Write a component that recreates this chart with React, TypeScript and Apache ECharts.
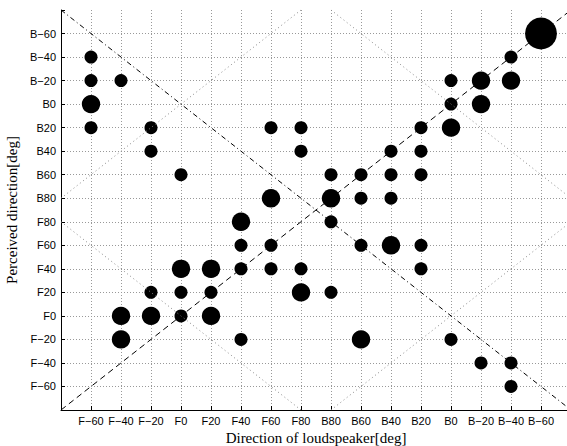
import React, { useEffect, useRef } from "react";
import * as echarts from "echarts";

const labels = ["F−60","F−40","F−20","F0","F20","F40","F60","F80","B80","B60","B40","B20","B0","B−20","B−40","B−60"];

// [speaker index, perceived index, count]
const responses: number[][] = [
  [0,14,1],[0,13,1],[1,13,1],[0,12,2],[0,11,1],[2,11,1],[6,11,1],[7,11,1],
  [2,10,1],[7,10,1],[3,9,1],[6,8,2],[5,7,2],
  [15,15,6],[14,14,1],[12,13,1],[13,13,2],[14,13,2],[12,12,1],[13,12,2],
  [11,11,1],[12,11,2],[10,10,1],[11,10,1],[8,9,1],[9,9,1],[10,9,1],[11,9,1],
  [8,8,2],[9,8,1],[10,8,1],[8,7,1],
  [5,6,1],[6,6,1],[3,5,2],[4,5,2],[5,5,1],[6,5,1],[7,5,1],
  [2,4,1],[3,4,1],[4,4,1],[7,4,2],[1,3,2],[2,3,2],[3,3,1],[4,3,2],
  [1,2,2],[5,2,1],
  [9,6,1],[10,6,2],[11,6,1],[11,5,1],[8,4,1],[9,2,2],[12,2,1],
  [13,1,1],[14,1,1],[14,0,1]
];

const mainDiagonal = [[-1,-1],[16,16]];
const antiDiagonal = [[-1,16],[16,-1]];
const diamond1 = [[-1,8],[7,16]];
const diamond2 = [[8,16],[16,8]];
const diamond3 = [[-1,7],[7,-1]];
const diamond4 = [[8,-1],[16,7]];

export default function App() {
  const ref = useRef<HTMLDivElement>(null);
  useEffect(() => {
    if (!ref.current) return;
    const chart = echarts.init(ref.current, null, { renderer: "svg" });
    const fmt = (v: number) => (v >= 0 && v <= 15 && Number.isInteger(v) ? labels[v] : "");
    const axisCommon = {
      type: "value" as const,
      min: -1,
      max: 16,
      interval: 1,
      nameLocation: "middle" as const,
      nameTextStyle: { fontFamily: "Liberation Serif", fontSize: 15, color: "#000" },
      axisLine: { show: true, onZero: false, lineStyle: { color: "#000", width: 1 } },
      axisTick: { show: true, inside: true, length: 4, lineStyle: { color: "#000" } },
      axisLabel: { formatter: fmt, fontFamily: "Liberation Sans", fontSize: 11, color: "#000", margin: 5 },
      splitLine: { show: true, showMinLine: false, showMaxLine: false, lineStyle: { color: "#999", type: [1, 2], width: 1 } },
    };
    const dotted = (data: number[][]) => ({
      type: "line", data, symbol: "none", silent: true,
      lineStyle: { color: "#888", width: 1, type: [1, 3] },
    });
    chart.setOption({
      animation: false,
      backgroundColor: "#fff",
      grid: { left: 61, top: 10, width: 510, height: 400, containLabel: false, outerBoundsMode: "none" },
      xAxis: { ...axisCommon, name: "Direction of loudspeaker[deg]", nameGap: 18 },
      yAxis: { ...axisCommon, name: "Perceived direction[deg]", nameGap: 34 },
      series: [
        dotted(diamond1), dotted(diamond2), dotted(diamond3), dotted(diamond4),
        { type: "line", data: mainDiagonal, symbol: "none", silent: true,
          lineStyle: { color: "#000", width: 1, type: [6, 4] } },
        { type: "line", data: antiDiagonal, symbol: "none", silent: true,
          lineStyle: { color: "#000", width: 1, type: [5, 3, 1, 3] } },
        { type: "scatter", data: responses.map((r) => [r[0], r[1], r[2]]),
          symbolSize: (v: number[]) => 13 * Math.sqrt(v[2]),
          itemStyle: { color: "#000", opacity: 1 } },
      ],
    });
    return () => chart.dispose();
  }, []);
  return <div ref={ref} style={{ position: "fixed", left: 0, top: 0, width: 567, height: 446, background: "#fff" }} />;
}
